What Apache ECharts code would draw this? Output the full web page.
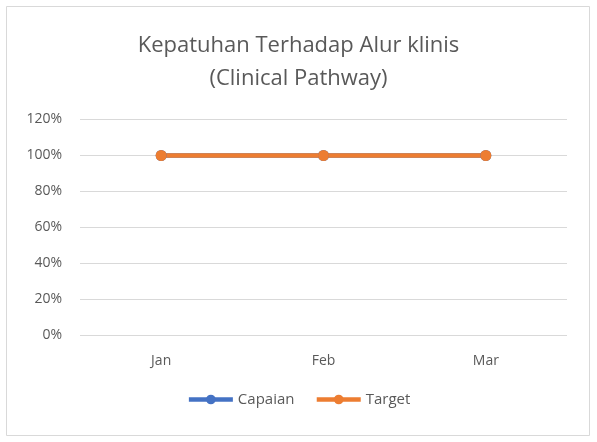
<!DOCTYPE html>
<html>
<head>
<meta charset="utf-8">
<script src="https://cdn.jsdelivr.net/npm/echarts@6/dist/echarts.min.js"></script>
<style>
  html, body { margin: 0; padding: 0; background: #fff; }
  #chart { width: 597px; height: 442px; }
</style>
</head>
<body>
<div id="chart"></div>
<script>
// data
const months = ['Jan', 'Feb', 'Mar']
const capaian = [1, 1, 1]
const target = [1, 1, 1]

const chart = echarts.init(document.getElementById('chart'))
const font = 'Open Sans'
const grey = '#595959'

const option = {
  backgroundColor: '#fff',
  animation: false,
  textStyle: { fontFamily: font },
  title: {
    text: 'Kepatuhan Terhadap Alur klinis\n(Clinical Pathway)',
    left: 'center',
    top: 24,
    textStyle: {
      color: grey,
      fontSize: 22,
      fontWeight: 'normal',
      fontFamily: font,
      lineHeight: 33
    }
  },
  graphic: [{
    type: 'rect',
    shape: { x: 6.5, y: 6.5, width: 583, height: 429 },
    style: { fill: 'none', stroke: '#d9d9d9', lineWidth: 1 }
  }],
  legend: {
    bottom: 30,
    left: 'center',
    itemWidth: 44,
    itemHeight: 12,
    itemGap: 20,
    lineStyle: { width: 4.5 },
    textStyle: { color: grey, fontSize: 15, fontFamily: font },
    data: ['Capaian', 'Target']
  },
  grid: {
    left: 80,
    right: 30,
    top: 119.5,
    bottom: 106.5
  },
  xAxis: {
    type: 'category',
    data: months,
    boundaryGap: true,
    axisLine: { show: false },
    axisTick: { show: false },
    axisLabel: { color: grey, fontSize: 14, margin: 19 }
  },
  yAxis: {
    type: 'value',
    min: 0,
    max: 1.2,
    interval: 0.2,
    axisLine: { show: false },
    axisTick: { show: false },
    splitLine: { lineStyle: { color: '#d9d9d9', width: 1 } },
    axisLabel: {
      color: grey,
      fontSize: 14,
      margin: 18,
      formatter: v => Math.round(v * 100) + '%'
    }
  },
  series: [
    {
      name: 'Capaian',
      type: 'line',
      data: capaian,
      color: '#4472c4',
      symbol: 'circle',
      symbolSize: 11,
      lineStyle: { width: 4.5 }
    },
    {
      name: 'Target',
      type: 'line',
      data: target,
      color: '#ed7d31',
      symbol: 'circle',
      symbolSize: 11,
      lineStyle: { width: 4.5 }
    }
  ]
}
chart.setOption(option)
</script>
</body>
</html>
